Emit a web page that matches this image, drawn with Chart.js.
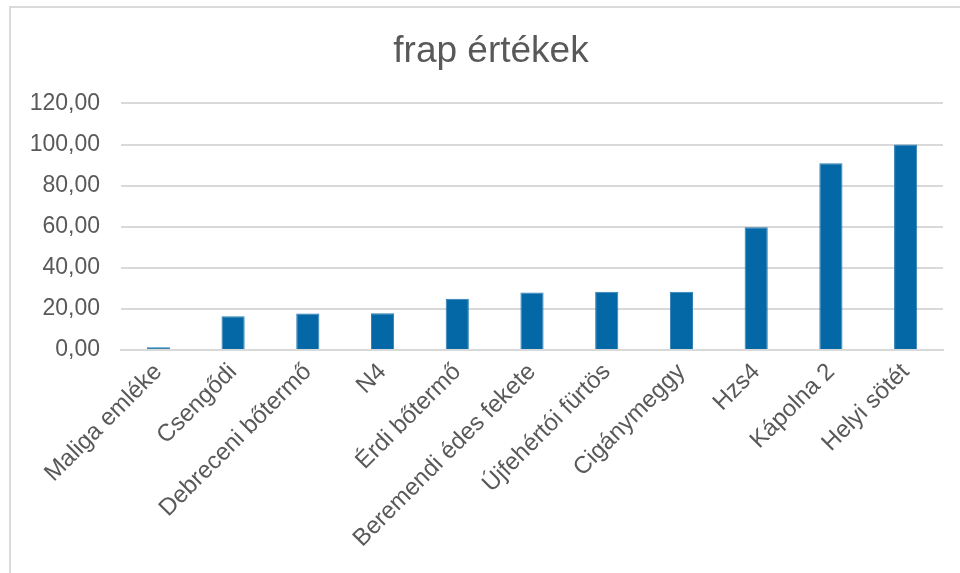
<!DOCTYPE html>
<html>
<head>
<meta charset="utf-8">
<script src="https://cdn.jsdelivr.net/npm/chart.js@4/dist/chart.umd.min.js"></script>
<style>
  body { margin: 0; background: #fff; overflow: hidden; }
  #frame {
    position: absolute; left: 9px; top: 6px; width: 960px; height: 580px;
    border-left: 2px solid #dadada; border-top: 2px solid #dadada;
  }
  /* canvas a bit wider than the window so the title centres like the reference */
  #chart { position: absolute; left: 0; top: 0; }
</style>
</head>
<body>
<div id="frame"></div>
<canvas id="chart" width="982" height="573"></canvas>
<script>
// Data
const fajtak = ['Maliga emléke', 'Csengődi', 'Debreceni bőtermő', 'N4', 'Érdi bőtermő',
    'Beremendi édes fekete', 'Újfehértói fürtös', 'Cigánymeggy', 'Hzs4', 'Kápolna 2', 'Helyi sötét'];
const frapErtekek = [1.3, 16.4, 17.8, 17.9, 24.9, 28.0, 28.3, 28.3, 59.7, 90.9, 100.0];
const yTicks = [0, 20, 40, 60, 80, 100, 120];

const grey = '#595959';

new Chart(document.getElementById('chart'), {
    type: 'bar',
    data: {
        labels: fajtak,
        datasets: [{
            data: frapErtekek,
            backgroundColor: '#0568a6',
            borderColor: '#2a7db3',
            borderWidth: 1,
            categoryPercentage: 1,
            barPercentage: 0.31
        }]
    },
    options: {
        responsive: false,
        animation: false,
        layout: { padding: 0 },
        plugins: {
            legend: { display: false },
            tooltip: { enabled: false },
            title: {
                display: true,
                text: 'frap értékek',
                color: grey,
                font: { family: 'Liberation Sans', size: 37, weight: 'normal', lineHeight: 1.2 },
                padding: { top: 30, bottom: 29 }
            }
        },
        scales: {
            x: {
                grid: { display: false, drawTicks: false },
                border: { color: '#d9d9d9', width: 2 },
                ticks: {
                    color: grey,
                    font: { family: 'Liberation Sans', size: 24 },
                    autoSkip: false,
                    maxRotation: 45,
                    minRotation: 45,
                    padding: 8
                },
                afterFit: function(scale) { scale.height = 223; }
            },
            y: {
                min: 0,
                max: 120,
                afterBuildTicks: function(scale) {
                    scale.ticks = yTicks.map(v => ({ value: v }));
                },
                grid: { color: '#d9d9d9', lineWidth: 2, drawTicks: false },
                border: { display: false },
                ticks: {
                    color: grey,
                    font: { family: 'Liberation Sans', size: 23 },
                    padding: 21,
                    callback: v => v.toFixed(2).replace('.', ',')
                },
                afterFit: function(scale) { scale.width = 121; }
            },
            // empty right-hand spacer so the plot ends where the reference's does
            spacer: {
                type: 'linear',
                position: 'right',
                grid: { display: false, drawTicks: false },
                border: { display: false },
                ticks: { display: false },
                afterFit: function(scale) { scale.width = 39; }
            }
        }
    }
});
</script>
</body>
</html>
